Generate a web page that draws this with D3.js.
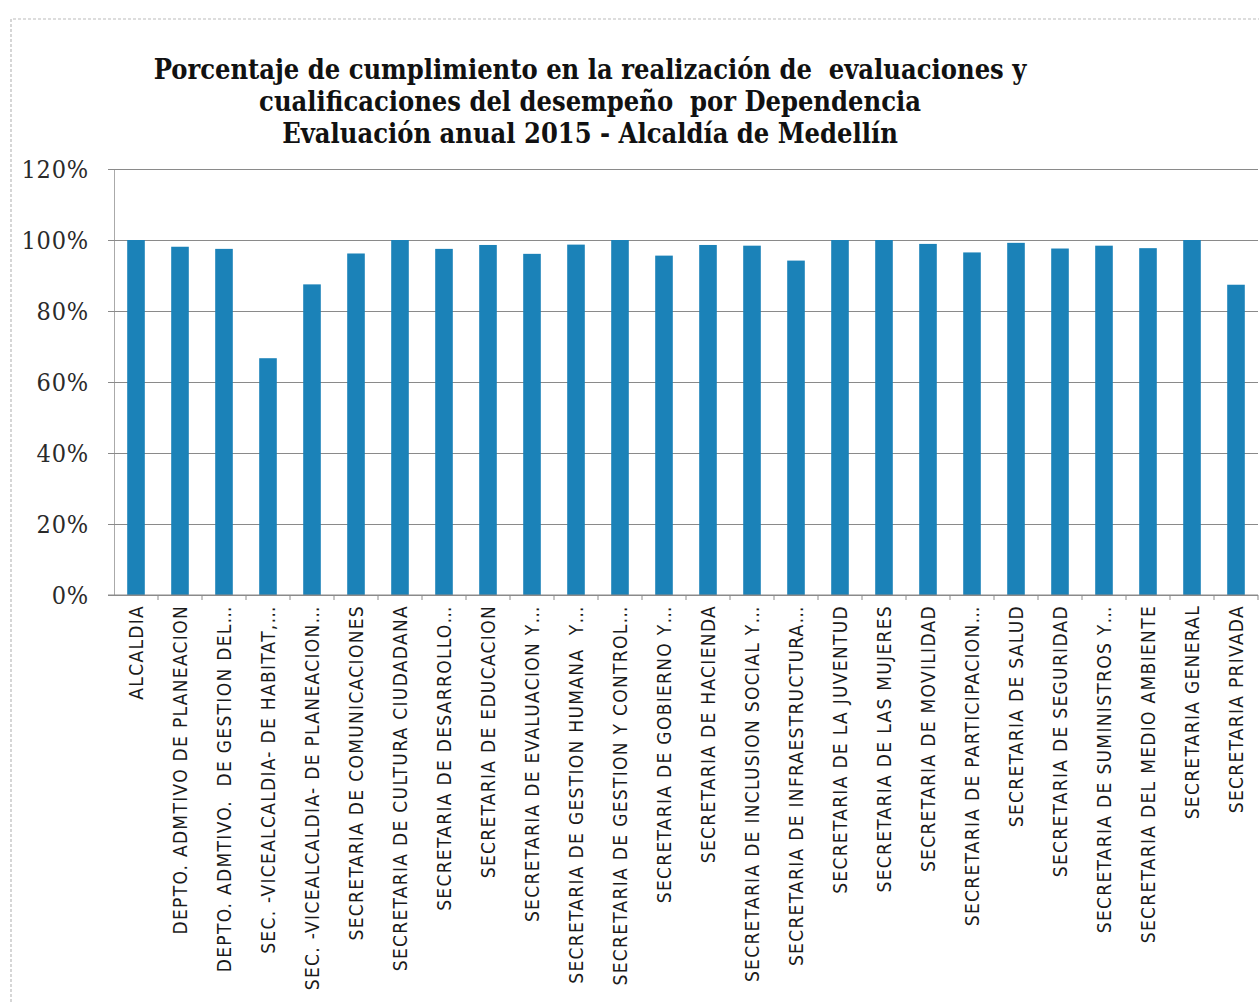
<!DOCTYPE html>
<html>
<head>
<meta charset="utf-8">
<script src="https://cdn.jsdelivr.net/npm/d3@7"></script>
<style>
  body { margin: 0; background: #fff; }
  text { white-space: pre; }
</style>
</head>
<body>
<script>
// DATA
var dependencias = [
  'ALCALDIA',
  'DEPTO. ADMTIVO DE PLANEACION',
  'DEPTO. ADMTIVO.  DE GESTION DEL…',
  'SEC. -VICEALCALDIA- DE HABITAT,…',
  'SEC. -VICEALCALDIA- DE PLANEACION…',
  'SECRETARIA DE COMUNICACIONES',
  'SECRETARIA DE CULTURA CIUDADANA',
  'SECRETARIA DE DESARROLLO…',
  'SECRETARIA DE EDUCACION',
  'SECRETARIA DE EVALUACION Y…',
  'SECRETARIA DE GESTION HUMANA  Y…',
  'SECRETARIA DE GESTION Y CONTROL…',
  'SECRETARIA DE GOBIERNO Y…',
  'SECRETARIA DE HACIENDA',
  'SECRETARIA DE INCLUSION SOCIAL Y…',
  'SECRETARIA DE INFRAESTRUCTURA…',
  'SECRETARIA DE LA JUVENTUD',
  'SECRETARIA DE LAS MUJERES',
  'SECRETARIA DE MOVILIDAD',
  'SECRETARIA DE PARTICIPACION…',
  'SECRETARIA DE SALUD',
  'SECRETARIA DE SEGURIDAD',
  'SECRETARIA DE SUMINISTROS Y…',
  'SECRETARIA DEL MEDIO AMBIENTE',
  'SECRETARIA GENERAL',
  'SECRETARIA PRIVADA'
];
var cumplimiento = [
  1.00, 0.981, 0.975, 0.667, 0.875, 0.962, 1.00, 0.975, 0.986, 0.961,
  0.987, 1.00, 0.956, 0.986, 0.984, 0.942, 1.00, 1.00, 0.989, 0.965,
  0.992, 0.976, 0.984, 0.977, 1.00, 0.874
];
var yTicks = [0, 0.2, 0.4, 0.6, 0.8, 1.0, 1.2];
var titulo = [
  'Porcentaje de cumplimiento en la realización de  evaluaciones y',
  'cualificaciones del desempeño  por Dependencia',
  'Evaluación anual 2015 - Alcaldía de Medellín'
];

var svgWidth = 1259, svgHeight = 1002;
var plotLeft = 114, plotRight = 1258, plotTop = 169, plotBottom = 595;

var svg = d3.select('body').append('svg')
  .attr('width', svgWidth)
  .attr('height', svgHeight);

// chart frame (dotted, like the scan)
svg.append('path')
  .attr('d', 'M11,1002 V19 H1259')
  .attr('fill', 'none')
  .attr('stroke', '#bbb')
  .attr('stroke-width', 1.2)
  .attr('stroke-dasharray', '3,2');

var x = d3.scaleBand()
  .domain(dependencias)
  .range([plotLeft, plotRight])
  .paddingInner(0.6)
  .paddingOuter(0.3);

var y = d3.scaleLinear()
  .domain([0, 1.2])
  .range([plotBottom, plotTop]);

// gridlines + y axis
var yAxis = svg.append('g')
  .attr('transform', 'translate(' + plotLeft + ',0)')
  .call(d3.axisLeft(y)
    .tickValues(yTicks)
    .tickSize(-(plotRight - plotLeft))
    .tickSizeOuter(0)
    .tickPadding(25)
    .tickFormat(d3.format('.0%')));
yAxis.select('.domain').attr('stroke', '#aaa');
yAxis.selectAll('.tick line')
  .attr('stroke', '#8a8a8a')
  .attr('x1', -6);
yAxis.selectAll('.tick text')
  .attr('fill', '#2a2a2a')
  .style('font-family', '"DejaVu Serif Condensed", "DejaVu Serif", serif')
  .style('font-size', '25px')
  .style('letter-spacing', '0.8px');

// bars
svg.selectAll('rect.bar')
  .data(cumplimiento)
  .enter()
  .append('rect')
  .attr('class', 'bar')
  .attr('x', function(d, i) { return x(dependencias[i]); })
  .attr('y', function(d) { return y(d); })
  .attr('width', x.bandwidth())
  .attr('height', function(d) { return plotBottom - y(d); })
  .attr('fill', '#1b82b8');

// x axis line and boundary ticks
svg.append('line')
  .attr('x1', plotLeft - 6).attr('x2', plotRight)
  .attr('y1', plotBottom).attr('y2', plotBottom)
  .attr('stroke', '#8a8a8a');
svg.selectAll('line.xtick')
  .data(dependencias)
  .enter()
  .append('line')
  .attr('class', 'xtick')
  .attr('x1', function(d) { return x(d) - x.step() * 0.3 + x.step(); })
  .attr('x2', function(d) { return x(d) - x.step() * 0.3 + x.step(); })
  .attr('y1', plotBottom)
  .attr('y2', plotBottom + 5)
  .attr('stroke', '#8a8a8a');

// category labels
svg.selectAll('text.cat')
  .data(dependencias)
  .enter()
  .append('text')
  .attr('class', 'cat')
  .attr('transform', function(d) {
    return 'translate(' + (x(d) + x.bandwidth() / 2 + 7) + ',' + (plotBottom + 10) + ') rotate(-90)';
  })
  .attr('text-anchor', 'end')
  .attr('fill', '#1a1a1a')
  .style('font-family', '"DejaVu Sans Condensed", sans-serif')
  .style('font-size', '19px')
  .style('letter-spacing', '1.3px')
  .text(function(d) { return d; });

// title
svg.selectAll('text.title')
  .data(titulo)
  .enter()
  .append('text')
  .attr('class', 'title')
  .attr('x', 590)
  .attr('y', function(d, i) { return 79 + i * 32; })
  .attr('text-anchor', 'middle')
  .attr('fill', '#111')
  .style('font-family', '"DejaVu Serif Condensed", "DejaVu Serif", serif')
  .style('font-weight', 'bold')
  .style('font-size', '27px')
  .text(function(d) { return d; });
</script>
</body>
</html>
